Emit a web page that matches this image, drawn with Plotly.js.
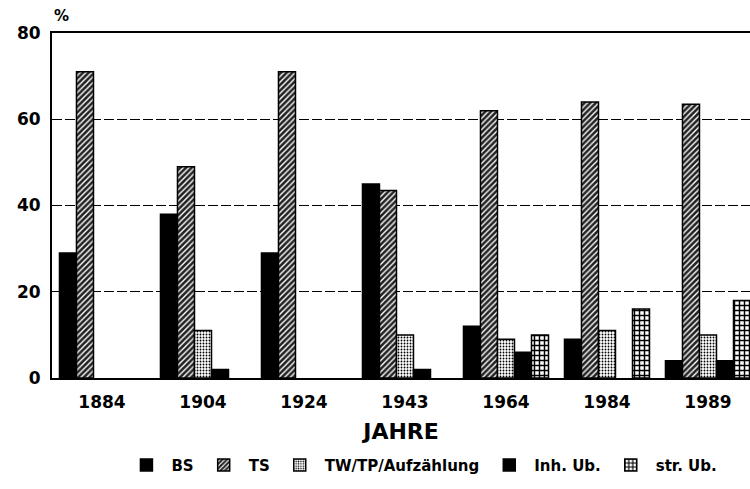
<!DOCTYPE html>
<html>
<head>
<meta charset="utf-8">
<script src="https://cdn.plot.ly/plotly-3.0.1.min.js"></script>
<style>html,body{margin:0;padding:0;background:#fff;}#chart{width:750px;height:489px;}</style>
</head>
<body>
<div id="chart"></div>
<script>
const years = ["1884", "1904", "1924", "1943", "1964", "1984", "1989"];
const seriesNames = ["BS", "TS", "TW/TP/Aufzählung", "Inh. Ub.", "str. Ub."];
const bsValues  = [29, 38, 29, 45, 12, 9, 4];
const tsValues  = [71, 49, 71, 43.5, 62, 64, 63.5];
const twValues  = [null, 11, null, 10, 9, 11, 10];
const inhValues = [null, 2, null, 2, 6, null, 4];
const strValues = [null, null, null, null, 10, 16, 18];
const yTicks = [0, 20, 40, 60, 80];

const FONT = "DejaVu Sans, Arial, sans-serif";
const line = {color: "#000", width: 1.5};

const styles = [
  {color: "#000", line: line},
  {color: "#333", line: line, pattern: {shape: "/", fgcolor: "#fff", bgcolor: "#222", size: 4, solidity: 0.35}},
  {color: "#ddd", line: line, pattern: {shape: ".", fgcolor: "#000", bgcolor: "#fff", size: 3, solidity: 0.3}},
  {color: "#000", line: line},
  {color: "#888", line: line, pattern: {shape: "+", fgcolor: "#000", bgcolor: "#fff", size: 5, solidity: 0.5}}
];
const allValues = [bsValues, tsValues, twValues, inhValues, strValues];

const data = allValues.map((vals, i) => ({
  type: "bar",
  name: seriesNames[i],
  x: years,
  y: vals,
  marker: styles[i],
  hoverinfo: "x+y+name"
}));

const layout = {
  width: 750,
  height: 489,
  margin: {l: 52, r: 0, t: 33, b: 111},
  paper_bgcolor: "#fff",
  plot_bgcolor: "#fff",
  barmode: "group",
  bargap: 0.158,
  bargroupgap: 0,
  font: {family: FONT, color: "#000"},
  xaxis: {
    type: "category",
    range: [-0.495, 6.416],
    showline: true, linecolor: "#000", linewidth: 2, mirror: true,
    ticks: "", showgrid: false,
    ticklabelstandoff: 8,
    tickfont: {family: FONT, size: 17, color: "#000", weight: "bold"},
    title: {text: "JAHRE", font: {family: FONT, size: 22, color: "#000", weight: "bold"}, standoff: 12}
  },
  yaxis: {
    range: [0, 80],
    tickvals: yTicks,
    showline: true, linecolor: "#000", linewidth: 2,
    showgrid: true, gridcolor: "#000", gridwidth: 1, griddash: "10px,3px",
    zeroline: false,
    ticks: "",
    ticklabelstandoff: 6,
    tickfont: {family: FONT, size: 17, color: "#000", weight: "bold"}
  },
  legend: {
    orientation: "h",
    x: 0.53, xanchor: "center",
    y: -0.253, yanchor: "middle",
    font: {family: FONT, size: 15, color: "#000", weight: "bold"},
    itemwidth: 40,
    traceorder: "normal"
  },
  annotations: [{
    text: "%", xref: "paper", yref: "paper", x: 0, y: 1.05,
    xanchor: "left", yanchor: "middle", showarrow: false,
    font: {family: FONT, size: 15, color: "#000", weight: "bold"}
  }]
};

Plotly.newPlot("chart", data, layout, {displayModeBar: false, staticPlot: true});
</script>
</body>
</html>
